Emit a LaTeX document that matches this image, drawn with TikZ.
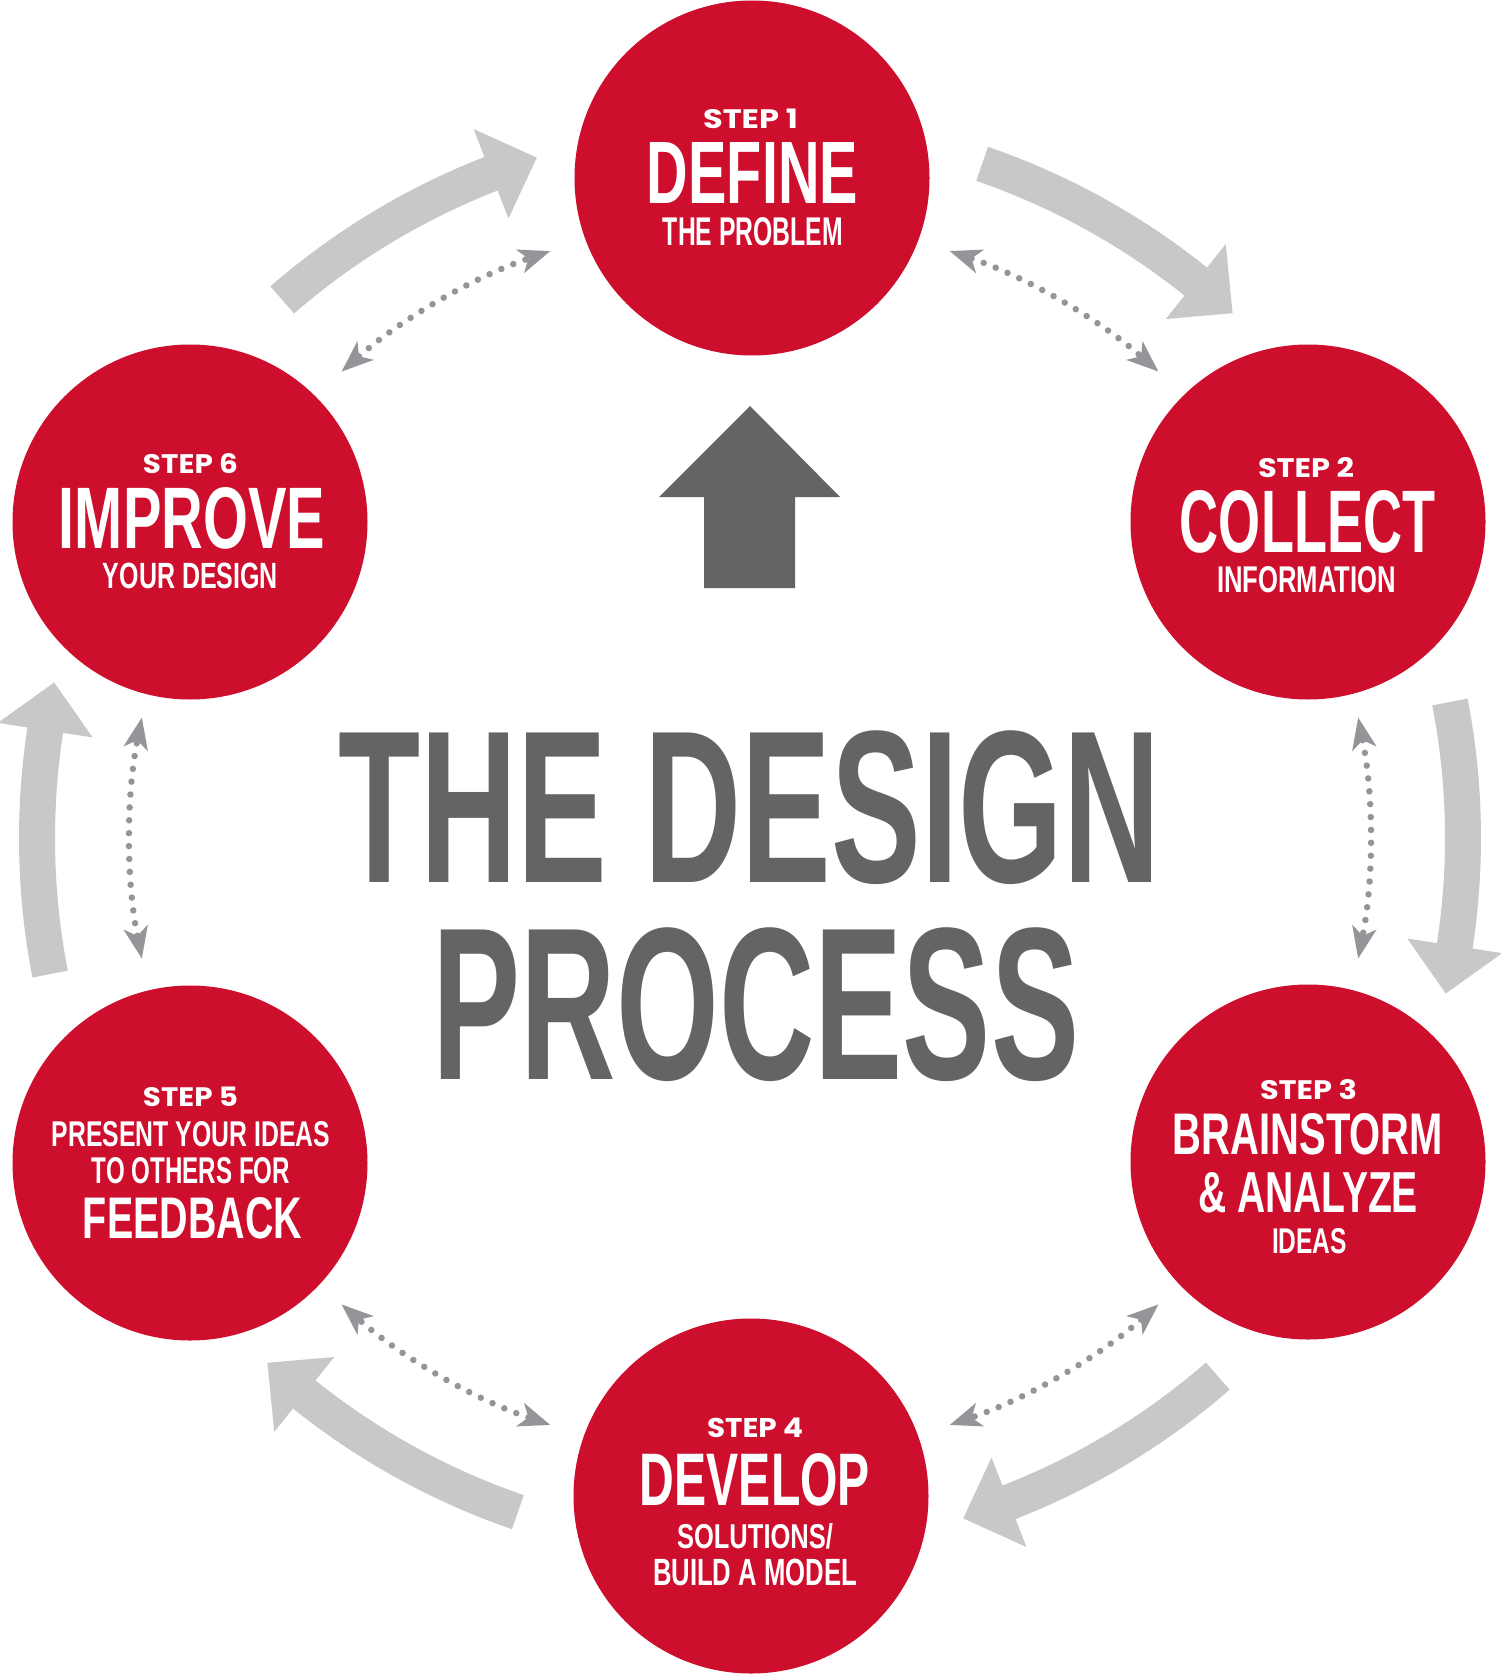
\documentclass[tikz,border=0pt]{standalone}
\usepackage{fontspec}
\usepackage{graphicx}
\usetikzlibrary{arrows.meta}
\newfontfamily\condfont{Liberation Sans}
\newfontfamily\stepfont{Poppins}
\definecolor{dred}{RGB}{206,14,45}
\definecolor{lgrey}{RGB}{199,200,202}
\definecolor{mgrey}{RGB}{147,149,152}
\definecolor{dgrey}{RGB}{99,100,102}
\newcommand\fitl[3]{\resizebox{#1pt}{#2pt}{#3}}
\newcommand\cond[1]{{\condfont\bfseries #1}}
\newcommand\stp[1]{{\stepfont\bfseries #1}}
% big curved grey arrow, #1 = mid angle (counter-clockwise, screen)
\newcommand\bigarr[1]{%
  \fill[lgrey] ({-(#1+11)}:731) arc[start angle={-(#1+11)}, end angle={-(#1-8.7)}, radius=731]
    -- ({-(#1-8.7)}:761) -- ({-(#1-12.6)}:713) -- ({-(#1-8.7)}:665) -- ({-(#1-8.7)}:695)
    arc[start angle={-(#1-8.7)}, end angle={-(#1+11)}, radius=695] -- cycle;}
% dotted double arrow
\newcommand\dotarr[1]{%
  \draw[dotline] ({-(#1+11.2)}:620) arc[start angle={-(#1+11.2)}, end angle={-(#1-11.2)}, radius=620];}
\begin{document}
\begin{tikzpicture}[x=1pt,y=-1pt,
  stepcircle/.style={circle, fill=dred, minimum size=355pt, inner sep=0pt},
  txt/.style={inner sep=0pt, outer sep=0pt, anchor=base, text=white},
  title/.style={inner sep=0pt, outer sep=0pt, anchor=base, text=dgrey},
  dtip/.style={Stealth[length=32pt, width=25pt, inset=9pt, line width=0pt]},
  dotline/.style={mgrey, line width=6.5pt, line cap=round, dash pattern=on 0pt off 12.9pt,
    {Stealth[length=32pt, width=25pt, inset=9pt, line width=0pt]}-{Stealth[length=32pt, width=25pt, inset=9pt, line width=0pt]}}]
\fill[white] (0,0) rectangle (1500,1677);
\useasboundingbox (0,0) rectangle (1500,1677);

% cycle arrows
\begin{scope}[shift={(750,838)}]
  \bigarr{60}
  \bigarr{0}
  \bigarr{-60}
  \bigarr{-120}
  \bigarr{180}
  \bigarr{120}
  \dotarr{60}
  \dotarr{0}
  \dotarr{-60}
  \dotarr{-120}
  \dotarr{180}
  \dotarr{120}
\end{scope}

% steps
\node[stepcircle] (c1) at (752,178) {};
\node[stepcircle] (c2) at (1308,522) {};
\node[stepcircle] (c3) at (1308,1162) {};
\node[stepcircle] (c4) at (751,1496) {};
\node[stepcircle] (c5) at (190,1163) {};
\node[stepcircle] (c6) at (190,522) {};

% step 1
\node[txt] (s1a) at (750.5,129) {\fitl{95}{19.5}{\stp{STEP 1}}};
\node[txt] (s1b) at (752.5,204) {\fitl{211}{61}{\cond{DEFINE}}};
\node[txt] (s1c) at (753,246) {\fitl{180}{28}{\cond{THE PROBLEM}}};
% step 2
\node[txt] (s2a) at (1306,477) {\fitl{96}{20}{\stp{STEP 2}}};
\node[txt] (s2b) at (1307.5,552) {\fitl{255}{62}{\cond{COLLECT}}};
\node[txt] (s2c) at (1306.5,592) {\fitl{179}{26}{\cond{INFORMATION}}};
% step 3
\node[txt] (s3a) at (1308.5,1099) {\fitl{97}{20}{\stp{STEP 3}}};
\node[txt] (s3b) at (1308,1154) {\fitl{270}{41}{\cond{BRAINSTORM}}};
\node[txt] (s3c) at (1308,1212) {\fitl{220}{40}{\cond{\& ANALYZE}}};
\node[txt] (s3d) at (1309.5,1253) {\fitl{75}{25}{\cond{IDEAS}}};
% step 4
\node[txt] (s4a) at (755,1437) {\fitl{96}{19.5}{\stp{STEP 4}}};
\node[txt] (s4b) at (755,1505) {\fitl{230}{52}{\cond{DEVELOP}}};
\node[txt] (s4c) at (755,1548) {\fitl{156}{25}{\cond{SOLUTIONS/}}};
\node[txt] (s4d) at (755,1585) {\fitl{204}{26.5}{\cond{BUILD A MODEL}}};
% step 5
\node[txt] (s5a) at (190.5,1106) {\fitl{95}{19.5}{\stp{STEP 5}}};
\node[txt] (s5b) at (191,1146) {\fitl{278}{25}{\cond{PRESENT YOUR IDEAS}}};
\node[txt] (s5c) at (191,1183) {\fitl{198}{26}{\cond{TO OTHERS FOR}}};
\node[txt] (s5d) at (192.5,1238) {\fitl{219}{41}{\cond{FEEDBACK}}};
% step 6
\node[txt] (s6a) at (190.5,473) {\fitl{95}{20}{\stp{STEP 6}}};
\node[txt] (s6b) at (192,548) {\fitl{266}{61}{\cond{IMPROVE}}};
\node[txt] (s6c) at (190.5,588) {\fitl{175}{25.5}{\cond{YOUR DESIGN}}};

% central up arrow
\fill[dgrey] (750,406) -- (840,497) -- (795,497) -- (795,588) -- (704,588) -- (704,497) -- (659,497) -- cycle;

% title
\node[title] (t1) at (749.5,882.5) {\fitl{821}{151.5}{\cond{THE DESIGN}}};
\node[title] (t2) at (756,1079) {\fitl{646}{151.5}{\cond{PROCESS}}};
\end{tikzpicture}
\end{document}
